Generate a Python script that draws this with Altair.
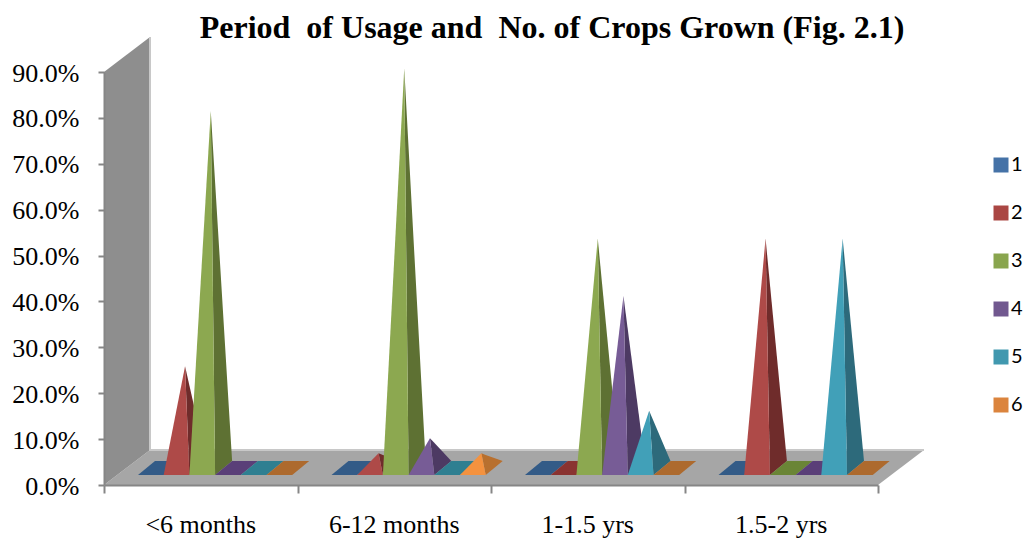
import altair as alt
import pandas as pd

TITLE = "Period \u00a0of Usage and \u00a0No. of Crops Grown (Fig. 2.1)"
categories = ["<6 months", "6-12 months", "1-1.5 yrs", "1.5-2 yrs"]
series = ["1", "2", "3", "4", "5", "6"]
# percent per category, one list per series
s1 = [0, 0, 0, 0]
s2 = [22.2, 3.2, 0, 50]
s3 = [77.8, 87.1, 50, 0]
s4 = [0, 6.5, 37.5, 0]
s5 = [0, 0, 12.5, 50]
s6 = [0, 3.2, 0, 0]
values = [s1, s2, s3, s4, s5, s6]

legend_colors = ["#4572A7", "#AA4643", "#89A54E", "#71588F", "#4198AF", "#DB843D"]
front_colors = ["#4A7EBB", "#AE4A48", "#8CA850", "#775C96", "#41A0B8", "#F4923F"]
side_colors = ["#2F5478", "#6F2C2B", "#5E7133", "#4D3A63", "#2D6A7B", "#B8702F"]
flat_colors = ["#335B87", "#8A3331", "#6A8536", "#5A3F78", "#2F7F91", "#AD6A2E"]

# plot geometry in pixels
W, H = 774, 413
XU = W / 4          # pixels per category
YU = H / 0.9        # pixels per unit of value
wall_dx, wall_dy = 46 / XU, 35 / YU
depth_dx, depth_dy = 17 / XU, 14 / YU
front_dy = 10 / YU
bar_w = 25.7 / XU
group_left = 34 / XU


def hull(points):
    """Turn a convex polygon into lower and upper y per x, for an area mark."""
    xs = sorted({p[0] for p in points})
    out = []
    n = len(points)
    for x in xs:
        ys = []
        for i in range(n):
            (x0, y0), (x1, y1) = points[i], points[(i + 1) % n]
            if min(x0, x1) - 1e-9 <= x <= max(x0, x1) + 1e-9:
                if abs(x1 - x0) < 1e-9:
                    ys += [y0, y1]
                else:
                    ys.append(y0 + (y1 - y0) * (x - x0) / (x1 - x0))
        out.append((x, min(ys), max(ys)))
    return out


rows = []
pid = 0


def add(points, fill, target):
    global pid
    pid += 1
    for x, lo, hi in hull(points):
        target.append({"id": pid, "fill": fill, "x": x, "lo": lo, "hi": hi})


back_rows = []
add([(0, 0), (wall_dx, wall_dy), (4 + wall_dx, wall_dy), (4, 0)], "#A6A6A6", back_rows)
add([(0, 0), (0, 0.9), (wall_dx, 0.9 + wall_dy), (wall_dx, wall_dy)], "#8E8E8E", back_rows)

for s, vals in enumerate(values):
    for g, pct in enumerate(vals):
        v = pct / 100
        xl = g + group_left + s * bar_w
        xr = xl + bar_w
        yf = front_dy
        yb = front_dy + depth_dy
        if v == 0:
            add([(xl, yf), (xr, yf), (xr + depth_dx, yb), (xl + depth_dx, yb)], flat_colors[s], rows)
        else:
            ax = (xl + xr + depth_dx) / 2
            ay = (yf + yb) / 2 + v
            add([(xr, yf), (ax, ay), (xr + depth_dx, yb)], side_colors[s], rows)
            add([(xl, yf), (ax, ay), (xr, yf)], front_colors[s], rows)

x_scale = alt.Scale(domain=[0, 4], nice=False, zero=False)
y_scale = alt.Scale(domain=[0, 0.9], nice=False, zero=False)
FONT = "Liberation Serif"
AXC = "#868686"

xaxis = alt.Axis(values=[0, 1, 2, 3, 4], labels=False, title=None, grid=False, domainColor=AXC,
                 domainWidth=2, tickColor=AXC, tickWidth=2, tickSize=8, zindex=1)
yaxis = alt.Axis(values=[i / 10 for i in range(10)], format=".1%", title=None, grid=False,
                 domainColor=AXC, domainWidth=2, tickColor=AXC, tickWidth=2, tickSize=6,
                 labelFont=FONT, labelFontSize=26, labelColor="#000000", labelPadding=19,
                 labelOffset=1, zindex=1)
X = lambda f: alt.X(f, scale=x_scale, axis=xaxis)
Y = lambda f: alt.Y(f, scale=y_scale, axis=yaxis)


def polys(data):
    return alt.Chart(pd.DataFrame(data)).mark_area(opacity=1, interpolate="linear").encode(
        x=X("x:Q"),
        y=Y("lo:Q"),
        y2="hi:Q",
        fill=alt.Fill("fill:N", scale=None),
        detail="id:N",
    )


rim = alt.Chart(pd.DataFrame({
    "x": [wall_dx, wall_dx, 4 + wall_dx],
    "y": [0.9 + wall_dy, wall_dy, wall_dy],
    "o": [0, 1, 2],
})).mark_line(color="#C8C8C8", strokeWidth=2).encode(
    x=X("x:Q"),
    y=Y("y:Q"),
    order="o:O",
)

cat_labels = alt.Chart(pd.DataFrame({
    "c": categories, "x": [i + 0.5 for i in range(4)],
})).mark_text(font=FONT, fontSize=26, color="#000000", baseline="alphabetic").encode(
    x=X("x:Q"),
    y=alt.value(H + 48),
    text="c:N",
)

legend_layer = alt.Chart(pd.DataFrame({"s": series, "x": [0] * 6})).mark_square(size=0).encode(
    x=X("x:Q"),
    y=alt.value(0),
    color=alt.Color("s:N", scale=alt.Scale(domain=series, range=legend_colors), legend=alt.Legend(
        orient="none", legendX=887, legendY=83, title=None, symbolType="square", symbolSize=225,
        symbolStrokeWidth=0, symbolOpacity=1, labelFont="Lato", labelFontSize=20,
        labelColor="#000000", rowPadding=28, labelOffset=0, padding=0,
    )),
)

chart = alt.layer(polys(back_rows), rim, polys(rows), cat_labels, legend_layer).properties(
    width=W, height=H,
    padding={"left": 96, "top": 64, "right": 146, "bottom": 57},
    autosize=alt.AutoSizeParams(type="none"),
    title=alt.TitleParams(TITLE, font=FONT, fontSize=32, fontWeight="bold", color="#000000",
                          anchor="middle", dx=61, offset=0, dy=12),
).configure_view(stroke=None)

chart.save("out.html", embed_options={"renderer": "svg", "actions": False})
